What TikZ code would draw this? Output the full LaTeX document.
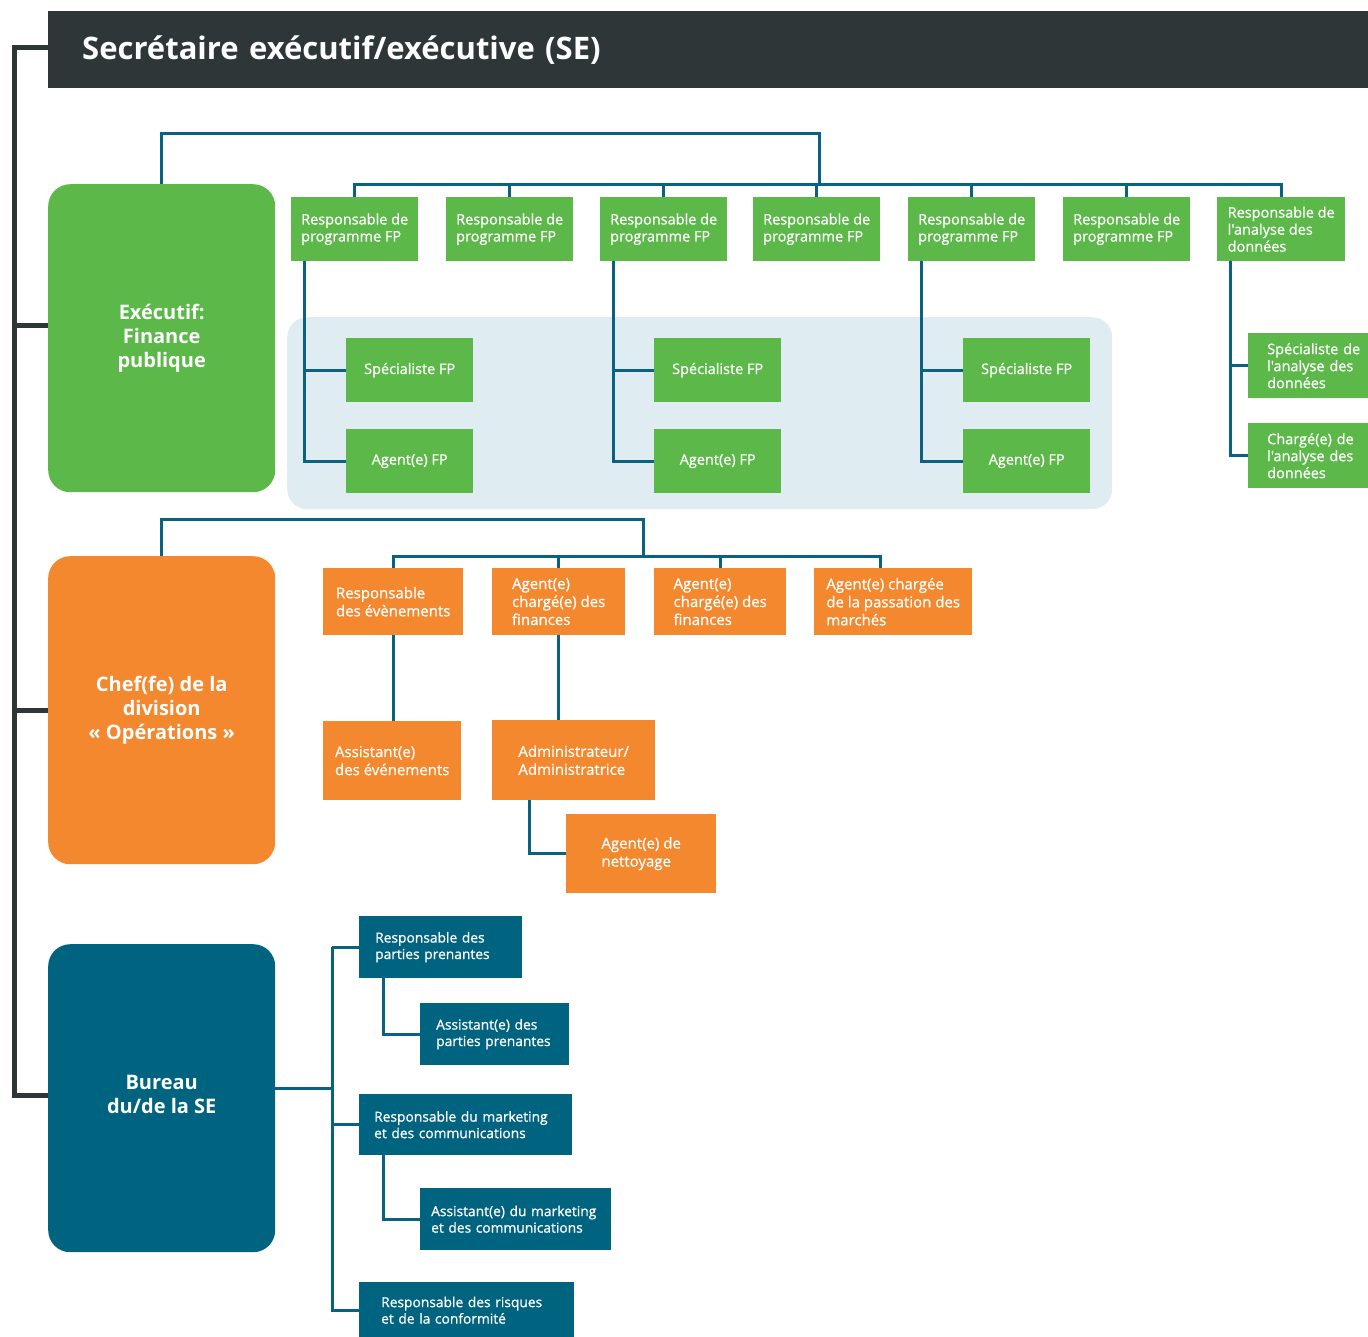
\documentclass[tikz,border=0pt]{standalone}
\usepackage{fontspec}
\setmainfont{Open Sans}
\newfontfamily\semib[FakeBold=0.8]{Open Sans}
\definecolor{cgreen}{RGB}{93,184,74}
\definecolor{corange}{RGB}{243,136,46}
\definecolor{cblue}{RGB}{0,99,128}
\definecolor{cline}{RGB}{10,98,128}
\definecolor{cdark}{RGB}{46,54,56}
\definecolor{cpanel}{RGB}{223,237,243}
\tikzset{
  lbl/.style={anchor=north west, text=white, inner sep=2pt, align=left, font=\semib\fontsize{14.5}{17}\selectfont},
  gbox/.style={lbl, fill=cgreen},
  gcbox/.style={gbox, align=center},
  obox/.style={lbl, fill=corange, font=\semib\fontsize{15}{18}\selectfont},
  bbox/.style={lbl, fill=cblue, inner ysep=0pt, font=\semib\fontsize{13.8}{16.5}\selectfont},
  bigbox/.style={anchor=north west, rounded corners=22, text=white, align=center, inner sep=0,
     minimum width=227, minimum height=308, font=\bfseries\fontsize{20}{24}\selectfont},
  conn/.style={draw=cline, line width=3},
  darkline/.style={draw=cdark, line width=5},
}
\begin{document}
\begin{tikzpicture}[x=1pt,y=-1pt]
\useasboundingbox (0,0) rectangle (1368,1337);

% title
\node[anchor=north west, fill=cdark, minimum width=1320, minimum height=77, inner xsep=34, inner ysep=0,
      text width=1252, align=left, text=white, font=\bfseries\fontsize{31}{36}\selectfont] (title) at (48,11)
      {Secrétaire exécutif/exécutive (SE)};

% big boxes
\node[bigbox, fill=cgreen] (exec) at (48,184) {Exécutif:\\Finance\\publique};
\node[bigbox, fill=corange] (ops) at (48,556) {Chef(fe) de la\\division\\«~Opérations~»};
\node[bigbox, fill=cblue, text depth=8pt] (bur) at (48,944) {Bureau\\du/de la SE};

% panel
\node[anchor=north west, fill=cpanel, rounded corners=20, minimum width=825, minimum height=192, inner sep=0] (panel) at (287,317) {};

% green row
\node[gbox, minimum width=127, minimum height=64] (p1) at (291,197) {Responsable de\\programme FP};
\node[gbox, minimum width=127, minimum height=64] (p2) at (446,197) {Responsable de\\programme FP};
\node[gbox, minimum width=127, minimum height=64] (p3) at (600,197) {Responsable de\\programme FP};
\node[gbox, minimum width=127, minimum height=64] (p4) at (753,197) {Responsable de\\programme FP};
\node[gbox, minimum width=127, minimum height=64] (p5) at (908,197) {Responsable de\\programme FP};
\node[gbox, minimum width=127, minimum height=64] (p6) at (1063,197) {Responsable de\\programme FP};
\node[gbox, minimum width=128, minimum height=64] (p7) at (1217,197) {Responsable de\\l'analyse des\\données};

\node[gcbox, minimum width=127, minimum height=64] (s1) at (346,338) {Spécialiste FP};
\node[gcbox, minimum width=127, minimum height=64] (a1) at (346,429) {Agent(e) FP};
\node[gcbox, minimum width=127, minimum height=64] (s2) at (654,338) {Spécialiste FP};
\node[gcbox, minimum width=127, minimum height=64] (a2) at (654,429) {Agent(e) FP};
\node[gcbox, minimum width=127, minimum height=64] (s3) at (963,338) {Spécialiste FP};
\node[gcbox, minimum width=127, minimum height=64] (a3) at (963,429) {Agent(e) FP};
\node[gbox, minimum width=120, minimum height=65, inner xsep=19, text width=96] (d1) at (1248,333) {Spécialiste de\\l'analyse des\\données};
\node[gbox, minimum width=120, minimum height=65, inner xsep=19, text width=96] (d2) at (1248,423) {Chargé(e) de\\l'analyse des\\données};

% orange
\node[obox, minimum width=140, minimum height=67] (ob1) at (323,568) {Responsable\\des évènements};
\node[obox, minimum width=133, minimum height=67] (ob2) at (492,568) {Agent(e)\\chargé(e) des\\finances};
\node[obox, minimum width=132, minimum height=67] (ob3) at (654,568) {Agent(e)\\chargé(e) des\\finances};
\node[obox, minimum width=158, minimum height=67] (ob4) at (814,568) {Agent(e) chargée\\de la passation des\\marchés};
\node[obox, minimum width=138, minimum height=79] (oa1) at (323,721) {Assistant(e)\\des événements};
\node[obox, minimum width=163, minimum height=80] (oa2) at (492,720) {Administrateur/\\Administratrice};
\node[obox, minimum width=150, minimum height=79] (on) at (566,814) {Agent(e) de\\nettoyage};

% blue
\node[bbox, minimum height=62, inner xsep=16, text width=131] (br1) at (359,916) {Responsable des\\parties prenantes};
\node[bbox, minimum height=62, inner xsep=16, text width=117] (ba1) at (420,1003) {Assistant(e) des\\parties prenantes};
\node[bbox, minimum height=61, inner xsep=15, text width=183] (br2) at (359,1094) {Responsable du marketing\\et des communications};
\node[bbox, minimum height=62, inner xsep=11, text width=169] (ba2) at (420,1188) {Assistant(e) du marketing\\et des communications};
\node[bbox, minimum height=56, inner xsep=22, text width=171] (br3) at (359,1282) {Responsable des risques\\et de la conformité};

% dark spine
\coordinate (d0) at (14,48);
\draw[darkline] (title.west |- d0) -- (d0) -- (d0 |- 0,1095) -- (bur.west |- 0,1095);
\draw[darkline] (d0 |- 0,326) -- (exec.west |- 0,326);
\draw[darkline] (d0 |- 0,710) -- (ops.west |- 0,710);

% green connectors
\coordinate (gbus) at (0,185);
\coordinate (gtop) at (819,134);
\draw[conn] (exec.north) -- (exec.north |- gtop) -- (gtop) -- (gtop |- gbus);
\draw[conn] (p1.north) -- (p1.north |- gbus) -- (p7.north |- gbus) -- (p7.north);
\foreach \n in {p2,p3,p4,p5,p6} \draw[conn] (\n.north) -- (\n.north |- gbus);
\coordinate (v1) at ([xshift=13]p1.south west);
\coordinate (v2) at ([xshift=13]p3.south west);
\coordinate (v3) at ([xshift=13]p5.south west);
\coordinate (v4) at ([xshift=13]p7.south west);
\draw[conn] (v1) |- (a1.west); \draw[conn] (v1 |- s1.west) -- (s1.west);
\draw[conn] (v2) |- (a2.west); \draw[conn] (v2 |- s2.west) -- (s2.west);
\draw[conn] (v3) |- (a3.west); \draw[conn] (v3 |- s3.west) -- (s3.west);
\draw[conn] (v4) |- (d2.west); \draw[conn] (v4 |- d1.west) -- (d1.west);

% orange connectors
\coordinate (obus) at (0,556);
\coordinate (otop) at (643,519);
\coordinate (o4t) at ([xshift=66]ob4.north west);
\draw[conn] (ops.north) -- (ops.north |- otop) -- (otop) -- (otop |- obus);
\draw[conn] (ob1.north) -- (ob1.north |- obus) -- (o4t |- obus) -- (o4t);
\draw[conn] (ob2.north) -- (ob2.north |- obus);
\draw[conn] (ob3.north) -- (ob3.north |- obus);
\draw[conn] (ob1.south) -- (ob1.south |- oa1.north);
\draw[conn] (ob2.south) -- (ob2.south |- oa2.north);
\coordinate (v5) at ([xshift=37]oa2.south west);
\draw[conn] (v5) |- (on.west);

% blue connectors
\coordinate (bv) at (332,1088);
\draw[conn] (bur.east |- bv) -- (bv);
\draw[conn] (bv |- br1.west) -- (br1.west);
\draw[conn] (bv |- br1.west) -- (bv |- br3.west) -- (br3.west);
\draw[conn] (bv |- br2.west) -- (br2.west);
\coordinate (v6) at ([xshift=24]br1.south west);
\coordinate (v7) at ([xshift=24]br2.south west);
\draw[conn] (v6) |- (ba1.west);
\draw[conn] (v7) |- (ba2.west);
\end{tikzpicture}
\end{document}
